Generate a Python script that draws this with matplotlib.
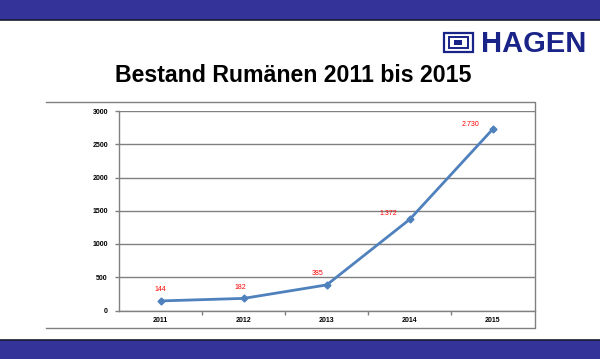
import numpy as np
import matplotlib
matplotlib.use("Agg")
import matplotlib.pyplot as plt
from matplotlib.patches import Rectangle
from matplotlib.lines import Line2D

# data
years = ["2011", "2012", "2013", "2014", "2015"]
bestand = [144, 182, 385, 1372, 2730]
yticks = [0, 500, 1000, 1500, 2000, 2500, 3000]
# label offsets in pixels (dx, dy) relative to each point
label_off = [(0, 8), (-3, 7), (-9, 8), (-22, 2), (-22, 1)]

band = "#333399"
navy = "#1a2488"
grey = "#808080"

fig = plt.figure(figsize=(6, 3.59), dpi=100)
W, H = 600, 359

def fx(px):
    return px / W

def fy(py):
    return 1 - py / H

# top and bottom bands with dark rule
fig.add_artist(Rectangle((0, fy(19.5)), 1, 19.5 / H, transform=fig.transFigure, color=band, lw=0))
fig.add_artist(Line2D([0, 1], [fy(20), fy(20)], transform=fig.transFigure, color="#1a1a33", lw=1.2))
fig.add_artist(Rectangle((0, 0), 1, fy(340), transform=fig.transFigure, color=band, lw=0))
fig.add_artist(Line2D([0, 1], [fy(339.5), fy(339.5)], transform=fig.transFigure, color="#1a1a33", lw=1.2))

# logo
fig.text(fx(481), fy(43.5), "HAGEN", fontsize=21, fontweight="heavy", color=navy,
         family="Liberation Sans", ha="left", va="center")
fig.add_artist(Rectangle((fx(444), fy(52)), fx(29), 19 / H, transform=fig.transFigure,
                         fill=False, ec=navy, lw=1.6))
fig.add_artist(Rectangle((fx(449), fy(48)), fx(19), 11 / H, transform=fig.transFigure,
                         fill=False, ec=navy, lw=1.4))
fig.add_artist(Rectangle((fx(454), fy(45)), fx(8), 5 / H, transform=fig.transFigure,
                         color=navy, lw=0))

# title
fig.text(fx(293), fy(75), "Bestand Rumänen 2011 bis 2015", fontsize=16.7, fontweight="bold",
         family="Liberation Sans", ha="center", va="center")

# outer chart frame (top, right, bottom)
fig.add_artist(Line2D([fx(46), fx(534.5), fx(534.5), fx(46)],
                      [fy(102), fy(102), fy(327.5), fy(327.5)],
                      transform=fig.transFigure, color=grey, lw=1.0))

ax = fig.add_axes([fx(119), fy(310.5), fx(534.5) - fx(119), (310.5 - 111) / H])
x = np.arange(len(years))
ax.plot(x, bestand, color="#4f81bd", lw=2.0, marker="D", ms=3.5, mec="#4f81bd", zorder=3)

for xi, v, (dx, dy) in zip(x, bestand, label_off):
    ax.annotate(f"{v:,}".replace(",", "."), (xi, v), xytext=(dx, dy), textcoords="offset pixels",
                ha="center", va="bottom", fontsize=5, color="red", family="Liberation Sans")

ax.set_xlim(-0.5, len(years) - 0.5)
ax.set_ylim(0, 3000)
ax.set_yticks(yticks)
ax.set_yticklabels([str(t) for t in yticks], fontsize=5, fontweight="bold", family="Liberation Sans")
ax.yaxis.grid(True, color=grey, lw=1.0)
ax.set_axisbelow(True)

ax.set_xticks(np.arange(0.5, len(years) - 1, 1.0))
ax.set_xticklabels([])
ax.set_xticks(x, minor=True)
ax.set_xticklabels(years, minor=True, fontsize=5, fontweight="bold", family="Liberation Sans")
ax.tick_params(axis="x", which="major", length=3, color=grey, width=1)
ax.tick_params(axis="x", which="minor", length=0, pad=5)
ax.tick_params(axis="y", length=3, color=grey, width=1, pad=5)

for s in ["top", "right"]:
    ax.spines[s].set_visible(False)
for s in ["left", "bottom"]:
    ax.spines[s].set_color(grey)
    ax.spines[s].set_linewidth(1.0)

fig.savefig("out.png", dpi=100)
